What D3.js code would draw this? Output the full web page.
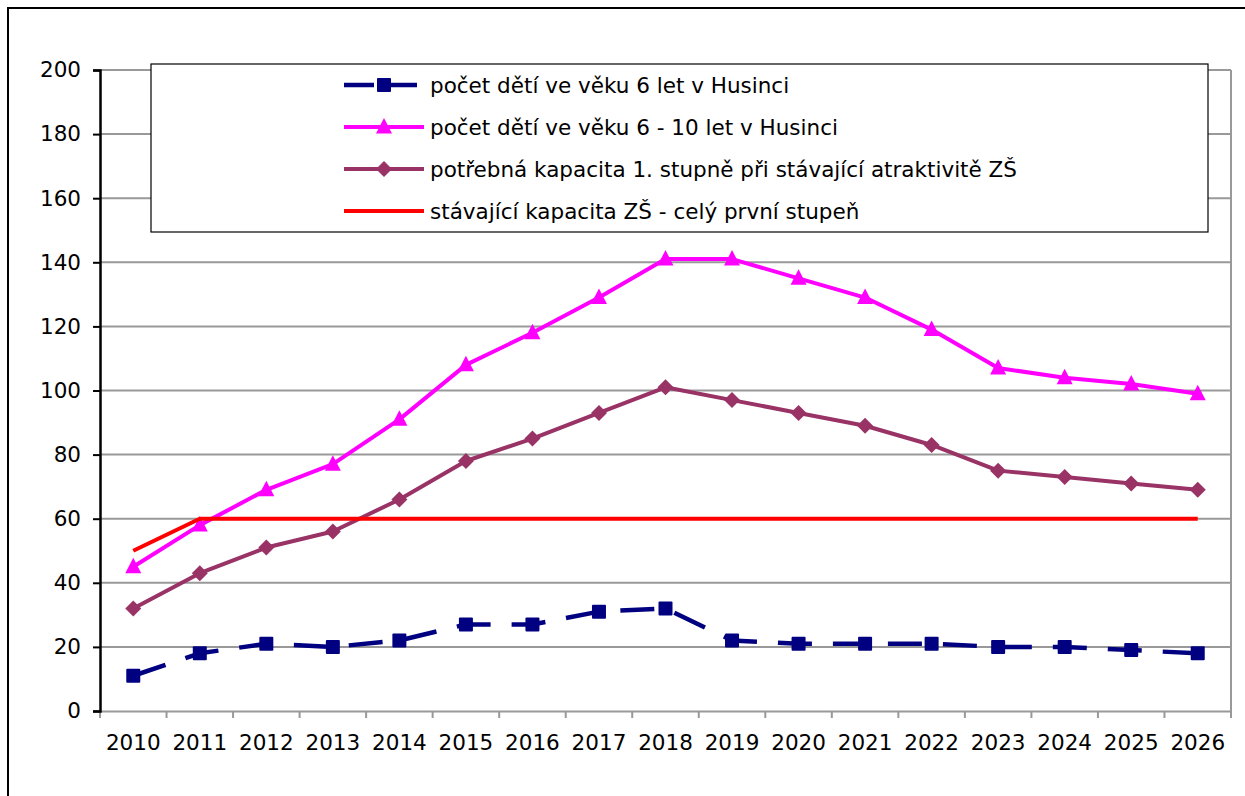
<!DOCTYPE html>
<html>
<head>
<meta charset="utf-8">
<script src="https://cdn.jsdelivr.net/npm/d3@7"></script>
<style>
  body { margin: 0; background: #fff; }
  text { font-family: "DejaVu Sans", Verdana, sans-serif; fill: #000; }
</style>
</head>
<body>
<div id="chart"></div>
<script>
// Data
const years = ['2010', '2011', '2012', '2013', '2014', '2015', '2016', '2017', '2018',
  '2019', '2020', '2021', '2022', '2023', '2024', '2025', '2026']
const deti6 = [11, 18, 21, 20, 22, 27, 27, 31, 32, 22, 21, 21, 21, 20, 20, 19, 18]
const deti6to10 = [45, 58, 69, 77, 91, 108, 118, 129, 141, 141, 135, 129, 119, 107, 104, 102, 99]
const potrebna = [32, 43, 51, 56, 66, 78, 85, 93, 101, 97, 93, 89, 83, 75, 73, 71, 69]
const stavajici = [50, 60, 60, 60, 60, 60, 60, 60, 60, 60, 60, 60, 60, 60, 60, 60, 60]
const yTicks = [0, 20, 40, 60, 80, 100, 120, 140, 160, 180, 200]
const seriesNames = [
  'počet dětí ve věku 6 let v Husinci',
  'počet dětí ve věku 6 - 10 let v Husinci',
  'potřebná kapacita 1. stupně při stávající atraktivitě ZŠ',
  'stávající kapacita ZŠ - celý první stupeň'
]

const series = [
  { name: seriesNames[0], values: deti6, color: '#000080', width: 4.5, dash: '34,21', marker: 'square' },
  { name: seriesNames[1], values: deti6to10, color: '#FF00FF', width: 4, dash: null, marker: 'triangle' },
  { name: seriesNames[2], values: potrebna, color: '#993366', width: 4, dash: null, marker: 'diamond' },
  { name: seriesNames[3], values: stavajici, color: '#FF0000', width: 4, dash: null, marker: null }
]

// Dimensions
const dimensions = {
  width: 1245,
  height: 796,
  margin: { top: 70, bottom: 85, left: 100, right: 14 }
}
dimensions.ctrWidth = dimensions.width - dimensions.margin.left - dimensions.margin.right
dimensions.ctrHeight = dimensions.height - dimensions.margin.top - dimensions.margin.bottom

const fontSize = '21.5px'

const svg = d3.select('#chart')
  .append('svg')
  .attr('width', dimensions.width)
  .attr('height', dimensions.height)

// outer chart frame
svg.append('rect')
  .attr('x', 8).attr('y', 8)
  .attr('width', 1300).attr('height', 900)
  .attr('fill', 'none')
  .attr('stroke', '#000')
  .attr('stroke-width', 2)

const ctr = svg.append('g')
  .attr('transform', `translate(${dimensions.margin.left}, ${dimensions.margin.top})`)

// Scales
const xScale = d3.scaleBand()
  .domain(years)
  .range([0, dimensions.ctrWidth])

const yScale = d3.scaleLinear()
  .domain([0, 200])
  .range([dimensions.ctrHeight, 0])

const xPos = (i) => xScale(years[i]) + xScale.bandwidth() / 2

// Gridlines
ctr.append('g')
  .selectAll('line')
  .data(yTicks.filter(d => d > 0))
  .join('line')
  .attr('x1', 0)
  .attr('x2', dimensions.ctrWidth)
  .attr('y1', d => yScale(d))
  .attr('y2', d => yScale(d))
  .attr('stroke', '#999')
  .attr('stroke-width', 2)

// right border of plot area
ctr.append('line')
  .attr('x1', dimensions.ctrWidth).attr('x2', dimensions.ctrWidth)
  .attr('y1', 0).attr('y2', dimensions.ctrHeight)
  .attr('stroke', '#999')
  .attr('stroke-width', 2)

// X axis
const xAxis = d3.axisBottom(xScale).tickSize(0).tickPadding(24)
const xAxisGroup = ctr.append('g')
  .attr('transform', `translate(0, ${dimensions.ctrHeight})`)
  .call(xAxis)
xAxisGroup.select('.domain').attr('stroke', '#999').attr('stroke-width', 2)
xAxisGroup.selectAll('text').style('font-size', fontSize)

// tick marks at band boundaries
const bounds = years.map(y => xScale(y)).concat([dimensions.ctrWidth])
xAxisGroup.append('g')
  .selectAll('line')
  .data(bounds)
  .join('line')
  .attr('x1', d => d).attr('x2', d => d)
  .attr('y1', 0).attr('y2', 7)
  .attr('stroke', '#999')
  .attr('stroke-width', 2)

// Y axis
const yAxis = d3.axisLeft(yScale).tickValues(yTicks).tickSize(7).tickPadding(12)
const yAxisGroup = ctr.append('g').call(yAxis)
yAxisGroup.select('.domain').attr('stroke', '#000').attr('stroke-width', 2.5)
yAxisGroup.selectAll('.tick line').attr('stroke', '#000').attr('stroke-width', 2)
yAxisGroup.selectAll('text').style('font-size', fontSize)

// Markers
function drawMarker(g, type, color, x, y) {
  if (type === 'square') {
    g.append('rect')
      .attr('x', x - 7).attr('y', y - 7)
      .attr('width', 14).attr('height', 14)
      .attr('rx', 1)
      .attr('fill', color)
  } else if (type === 'triangle') {
    g.append('path')
      .attr('d', `M${x},${y - 9}L${x + 8},${y + 6.5}L${x - 8},${y + 6.5}Z`)
      .attr('fill', color)
  } else if (type === 'diamond') {
    g.append('path')
      .attr('d', `M${x},${y - 8}L${x + 8},${y}L${x},${y + 8}L${x - 8},${y}Z`)
      .attr('fill', color)
  }
}

// Lines
const line = d3.line()
  .x((d, i) => xPos(i))
  .y(d => yScale(d))

series.forEach(s => {
  const g = ctr.append('g')
  g.append('path')
    .datum(s.values)
    .attr('d', line)
    .attr('fill', 'none')
    .attr('stroke', s.color)
    .attr('stroke-width', s.width)
    .attr('stroke-dasharray', s.dash)
    .attr('stroke-linejoin', 'round')
  if (s.marker) {
    s.values.forEach((v, i) => drawMarker(g, s.marker, s.color, xPos(i), yScale(v)))
  }
})

// Legend
const legend = svg.append('g')
legend.append('rect')
  .attr('x', 151).attr('y', 64)
  .attr('width', 1057).attr('height', 168)
  .attr('fill', '#fff')
  .attr('stroke', '#000')
  .attr('stroke-width', 1.2)

series.forEach((s, i) => {
  const y = 85 + i * 42
  const row = legend.append('g')
  row.append('line')
    .attr('x1', 344).attr('x2', 424)
    .attr('y1', y).attr('y2', y)
    .attr('stroke', s.color)
    .attr('stroke-width', s.width)
    .attr('stroke-dasharray', s.dash ? '30,9,34' : null)
  if (s.marker) drawMarker(row, s.marker, s.color, 384, y)
  row.append('text')
    .attr('x', 430)
    .attr('y', y)
    .attr('dy', '0.35em')
    .style('font-size', fontSize)
    .text(s.name)
})
</script>
</body>
</html>
